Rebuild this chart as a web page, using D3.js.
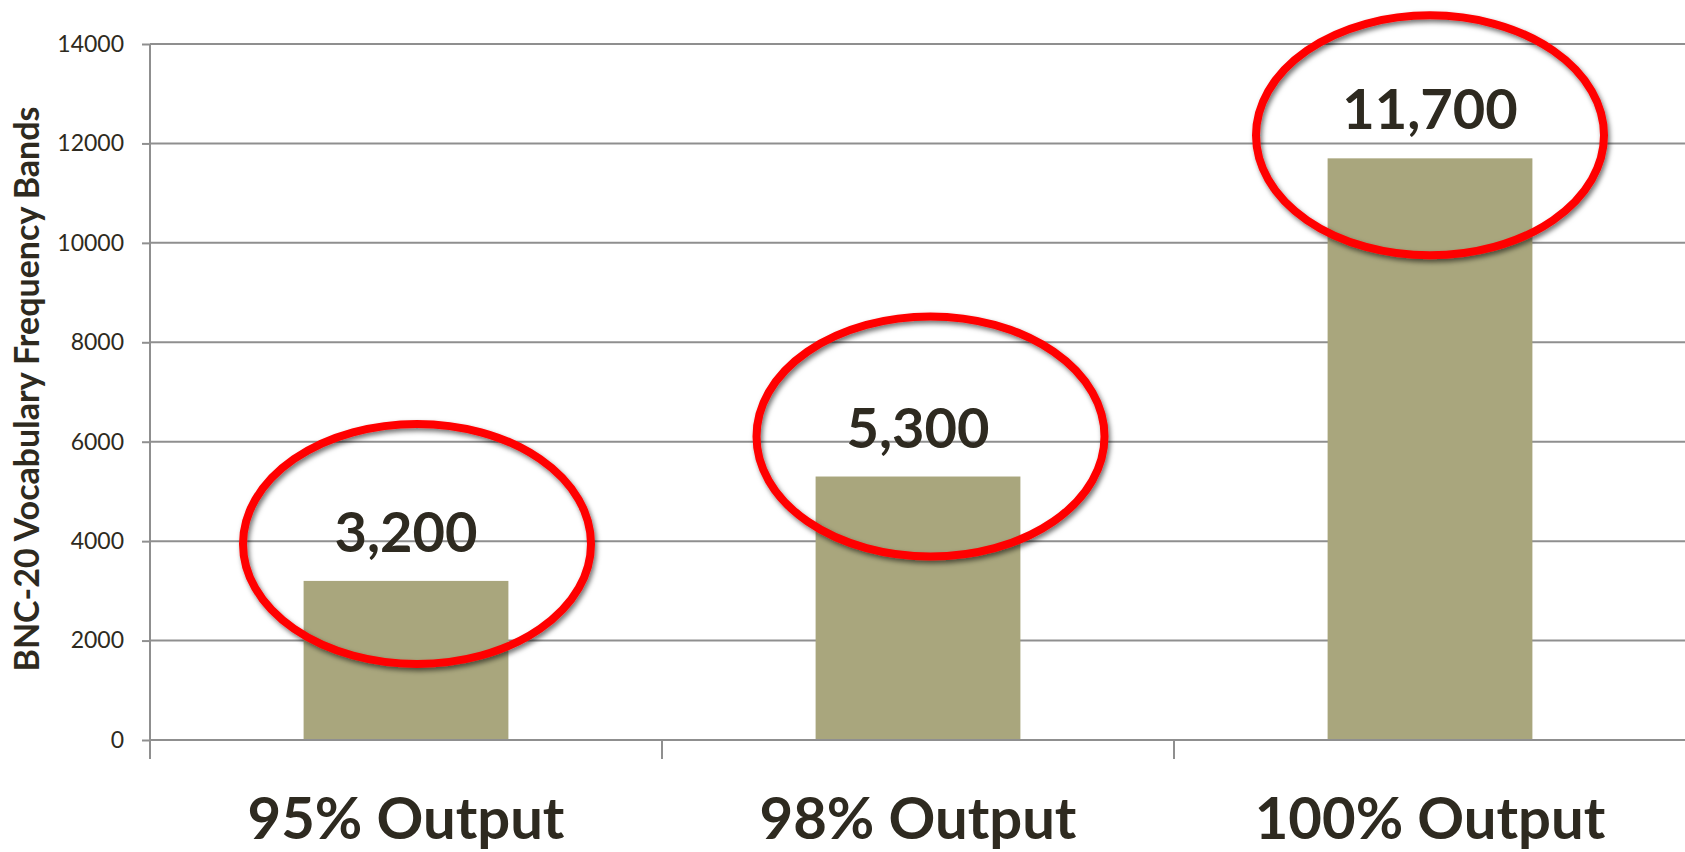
<!DOCTYPE html>
<html>
<head>
<meta charset="utf-8">
<script src="https://cdn.jsdelivr.net/npm/d3@7"></script>
<style>
  html, body { margin: 0; padding: 0; background: #ffffff; }
  svg { display: block; }
  text { font-family: Lato, "Open Sans", sans-serif; }
</style>
</head>
<body>
<svg id="chart" width="1685" height="852"></svg>
<script>
// ---- data ----
const categories = ["95% Output", "98% Output", "100% Output"];
const values = [3200, 5300, 11700];
const valueLabels = ["3,200", "5,300", "11,700"];
const yTicks = [0, 2000, 4000, 6000, 8000, 10000, 12000, 14000];
const yTitle = "BNC-20 Vocabulary Frequency Bands";

// ---- annotation layout (hand-drawn ovals, offset from bar top centre) ----
const ovalShift = [[11, -37], [12.5, -40], [0, -23]];
const ovalRadius = [174, 120];

(function () {
const W = 1685, H = 852;
const mLeft = 150, mTop = 44, mBottom = 740, mRight = 1686;

const svg = d3.select("#chart");

const defs = svg.append("defs");
const f = defs.append("filter").attr("id", "shadow")
  .attr("x", "-20%").attr("y", "-20%").attr("width", "140%").attr("height", "140%");
f.append("feDropShadow").attr("dx", 2).attr("dy", 3).attr("stdDeviation", 2.5)
  .attr("flood-color", "#000").attr("flood-opacity", 0.55);

const x = d3.scaleBand().domain(categories).range([mLeft, mRight])
  .paddingInner(0.6).paddingOuter(0.3);
const y = d3.scaleLinear().domain([0, 14000]).range([mBottom, mTop]);

const gridColor = "#8f8f8f";
const textColor = "#2e2a20";

// gridlines
svg.append("g").selectAll("line").data(yTicks).join("line")
  .attr("x1", mLeft).attr("x2", W)
  .attr("y1", d => y(d)).attr("y2", d => y(d))
  .attr("stroke", gridColor).attr("stroke-width", 2);

// y axis
const yAxis = d3.axisLeft(y).tickValues(yTicks).tickSize(8).tickPadding(18)
  .tickFormat(d3.format("d"));
const gy = svg.append("g").attr("transform", `translate(${mLeft},0)`).call(yAxis);
gy.select(".domain").remove();
gy.selectAll(".tick line").attr("stroke", gridColor).attr("stroke-width", 2);
gy.selectAll(".tick text").attr("fill", textColor)
  .style("font-family", "Lato, sans-serif").style("font-size", "23px");

// vertical axis line
svg.append("line").attr("x1", mLeft).attr("x2", mLeft)
  .attr("y1", mTop).attr("y2", mBottom + 19)
  .attr("stroke", gridColor).attr("stroke-width", 2);

// category boundary ticks
const step = x.step();
const bounds = d3.range(categories.length + 1).map(i => x.range()[0] + i * step);
svg.append("g").selectAll("line").data(bounds).join("line")
  .attr("x1", d => d).attr("x2", d => d)
  .attr("y1", mBottom).attr("y2", mBottom + 19)
  .attr("stroke", gridColor).attr("stroke-width", 2);

// bars
svg.append("g").selectAll("rect").data(values).join("rect")
  .attr("x", (d, i) => x(categories[i]))
  .attr("width", x.bandwidth())
  .attr("y", d => y(d))
  .attr("height", d => y(0) - y(d))
  .attr("fill", "#a9a67d");

// redraw baseline over bars
svg.append("line").attr("x1", mLeft).attr("x2", W)
  .attr("y1", y(0)).attr("y2", y(0))
  .attr("stroke", gridColor).attr("stroke-width", 2);

// value labels
svg.append("g").selectAll("text").data(values).join("text")
  .attr("x", (d, i) => x(categories[i]) + x.bandwidth() / 2)
  .attr("y", d => y(d) - 29)
  .attr("text-anchor", "middle")
  .attr("fill", textColor)
  .style("font-size", "56px").style("font-weight", 700)
  .text((d, i) => valueLabels[i]);

// ovals
svg.append("g").selectAll("ellipse").data(values).join("ellipse")
  .attr("cx", (d, i) => x(categories[i]) + x.bandwidth() / 2 + ovalShift[i][0])
  .attr("cy", (d, i) => y(d) + ovalShift[i][1])
  .attr("rx", ovalRadius[0]).attr("ry", ovalRadius[1])
  .attr("fill", "none").attr("stroke", "#ff0000").attr("stroke-width", 8)
  .attr("filter", "url(#shadow)");

// category labels
svg.append("g").selectAll("text").data(categories).join("text")
  .attr("x", d => x(d) + x.bandwidth() / 2)
  .attr("y", 839)
  .attr("text-anchor", "middle")
  .attr("fill", textColor)
  .style("font-size", "58px").style("font-weight", 700)
  .text(d => d);

// y title
svg.append("text")
  .attr("transform", `translate(39,${(mTop + mBottom) / 2 - 3}) rotate(-90)`)
  .attr("text-anchor", "middle")
  .attr("fill", textColor)
  .style("font-size", "34px").style("font-weight", 700)
  .text(yTitle);
})();
</script>
</body>
</html>
